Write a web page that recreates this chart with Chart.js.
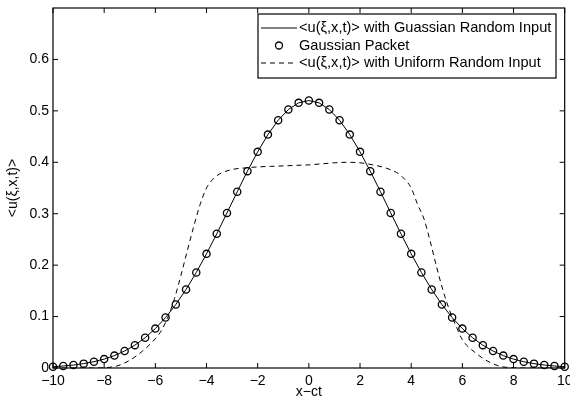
<!DOCTYPE html>
<html>
<head>
<meta charset="utf-8">
<script src="https://cdn.jsdelivr.net/npm/chart.js@4"></script>
<style>
  html, body { margin: 0; padding: 0; background: #fff; }
  #wrap { width: 570px; height: 404px; }
</style>
</head>
<body>
<div id="wrap"><canvas id="chart" width="570" height="404"></canvas></div>
<script>
// x grid of the Gaussian curves (every 0.4)
const xGrid = [-10,-9.6,-9.2,-8.8,-8.4,-8,-7.6,-7.2,-6.8,-6.4,-6,-5.6,-5.2,-4.8,-4.4,-4,-3.6,-3.2,-2.8,-2.4,-2,-1.6,-1.2,-0.8,-0.4,
  0,0.4,0.8,1.2,1.6,2,2.4,2.8,3.2,3.6,4,4.4,4.8,5.2,5.6,6,6.4,6.8,7.2,7.6,8,8.4,8.8,9.2,9.6,10];

// <u(xi,x,t)> with gaussian random input (solid line)
const gaussMean = [0.0025,0.0039,0.0058,0.0085,0.0122,0.0173,0.0241,0.0330,0.0444,0.0588,0.0766,0.0981,0.1234,0.1527,0.1857,
  0.2220,0.2610,0.3016,0.3427,0.3828,0.4203,0.4538,0.4817,0.5026,0.5156,0.5200,0.5156,0.5026,0.4817,0.4538,0.4203,0.3828,
  0.3427,0.3016,0.2610,0.2220,0.1857,0.1527,0.1234,0.0981,0.0766,0.0588,0.0444,0.0330,0.0241,0.0173,0.0122,0.0085,0.0058,0.0039,0.0025];

// gaussian packet (circle markers)
const gaussPacket = [0.0025,0.0039,0.0058,0.0085,0.0122,0.0173,0.0241,0.0330,0.0444,0.0588,0.0766,0.0981,0.1234,0.1527,0.1857,
  0.2220,0.2610,0.3016,0.3427,0.3828,0.4203,0.4538,0.4817,0.5026,0.5156,0.5200,0.5156,0.5026,0.4817,0.4538,0.4203,0.3828,
  0.3427,0.3016,0.2610,0.2220,0.1857,0.1527,0.1234,0.0981,0.0766,0.0588,0.0444,0.0330,0.0241,0.0173,0.0122,0.0085,0.0058,0.0039,0.0025];

// <u(xi,x,t)> with uniform random input (dashed)
const xUniform = [-10,-9,-8.5,-8,-7.5,-7,-6.5,-6,-5.75,-5.5,-5.25,-5,-4.75,-4.5,-4.25,-4,-3.75,-3.5,-3,-2.5,-2,-1.5,-1,-0.5,
  0,0.5,1,1.5,2,2.5,3,3.5,3.75,4,4.25,4.5,4.75,5,5.25,5.5,5.75,6,6.5,7,7.5,8,8.5,9,10];
const uniformMean = [0,0,0,0.0005,0.004,0.015,0.033,0.057,0.074,0.100,0.135,0.180,0.228,0.275,0.318,0.350,0.367,0.377,0.386,0.389,
  0.391,0.392,0.393,0.394,0.395,0.397,0.399,0.400,0.399,0.395,0.389,0.378,0.367,0.350,0.318,0.290,0.245,0.195,0.150,0.112,0.082,
  0.055,0.030,0.013,0.003,0.0005,0,0,0];

const xTicks = [-10,-8,-6,-4,-2,0,2,4,6,8,10];
const yTicks = [0,0.1,0.2,0.3,0.4,0.5,0.6];
const yTickLabels = ['0','0.1','0.2','0.3','0.4','0.5','0.6'];

const legendLabels = [
  '<u(\u03BE,x,t)> with Guassian Random Input',
  'Gaussian Packet',
  '<u(\u03BE,x,t)> with Uniform Random Input'
];

const FONT = '"Liberation Sans", Arial, Helvetica, sans-serif';

function pts(xs, ys) { return xs.map((x, i) => ({x: x, y: ys[i]})); }

// box around the axes with inward ticks on all four sides
const frame = {
  id: 'frame',
  afterDatasetsDraw(chart) {
    const {ctx, chartArea: a, scales} = chart;
    const len = 5;
    ctx.save();
    ctx.strokeStyle = '#000';
    ctx.lineWidth = 1.2;
    ctx.strokeRect(a.left, a.top, a.right - a.left, a.bottom - a.top);
    ctx.lineWidth = 1;
    ctx.beginPath();
    xTicks.forEach(v => {
      const px = scales.x.getPixelForValue(v);
      ctx.moveTo(px, a.bottom); ctx.lineTo(px, a.bottom - len);
      ctx.moveTo(px, a.top); ctx.lineTo(px, a.top + len);
    });
    yTicks.forEach(v => {
      const py = scales.y.getPixelForValue(v);
      ctx.moveTo(a.left, py); ctx.lineTo(a.left + len, py);
      ctx.moveTo(a.right, py); ctx.lineTo(a.right - len, py);
    });
    ctx.stroke();
    ctx.restore();
  }
};

// matlab style legend box in the upper right
const boxLegend = {
  id: 'boxLegend',
  afterDraw(chart) {
    const {ctx} = chart;
    const left = 258, top = 14, right = 556, bottom = 78;
    const rows = [28, 45.5, 63];
    ctx.save();
    ctx.fillStyle = '#fff';
    ctx.fillRect(left, top, right - left, bottom - top);
    ctx.strokeStyle = '#000';
    ctx.lineWidth = 1.2;
    ctx.strokeRect(left, top, right - left, bottom - top);
    ctx.font = '14.6px ' + FONT;
    ctx.textBaseline = 'middle';
    ctx.fillStyle = '#000';
    const x0 = 261, x1 = 297;
    // solid
    ctx.lineWidth = 1;
    ctx.beginPath(); ctx.moveTo(x0, rows[0]); ctx.lineTo(x1, rows[0]); ctx.stroke();
    // circle marker
    ctx.lineWidth = 1.3;
    ctx.beginPath(); ctx.arc((x0 + x1) / 2, rows[1], 3.5, 0, Math.PI * 2); ctx.stroke();
    // dashed
    ctx.lineWidth = 1;
    ctx.setLineDash([5, 4]);
    ctx.beginPath(); ctx.moveTo(x0, rows[2]); ctx.lineTo(x1, rows[2]); ctx.stroke();
    ctx.setLineDash([]);
    legendLabels.forEach((t, i) => ctx.fillText(t, 299, rows[i]));
    ctx.restore();
  }
};

new Chart(document.getElementById('chart').getContext('2d'), {
  type: 'line',
  data: {
    datasets: [
      {
        label: legendLabels[0],
        data: pts(xGrid, gaussMean),
        borderColor: '#000', borderWidth: 1, pointRadius: 0, tension: 0, fill: false
      },
      {
        label: legendLabels[1],
        data: pts(xGrid, gaussPacket),
        showLine: false, pointStyle: 'circle', pointRadius: 3.6,
        pointBorderColor: '#000', pointBackgroundColor: 'rgba(0,0,0,0)', pointBorderWidth: 1.3,
        clip: false
      },
      {
        label: legendLabels[2],
        data: pts(xUniform, uniformMean),
        borderColor: '#000', borderWidth: 1, borderDash: [5, 4], pointRadius: 0,
        cubicInterpolationMode: 'monotone', fill: false
      }
    ]
  },
  options: {
    responsive: false,
    animation: false,
    layout: { padding: { left: 0, right: 5, top: 8, bottom: 0 } },
    plugins: { legend: { display: false }, tooltip: { enabled: false } },
    scales: {
      x: {
        type: 'linear', min: -10, max: 10,
        grid: { display: false, drawTicks: false },
        border: { display: false },
        afterBuildTicks: s => { s.ticks = xTicks.map(v => ({value: v})); },
        afterFit: s => { s.height = 36; s.paddingLeft = 0; s.paddingRight = 0; },
        ticks: {
          autoSkip: false, maxRotation: 0, padding: 5, color: '#000',
          font: { family: FONT, size: 14 },
          callback: v => String(v).replace('-', '\u2212')
        },
        title: { display: true, text: 'x\u2212ct', color: '#000', font: { family: FONT, size: 14 }, padding: { top: 0, bottom: 3 } }
      },
      y: {
        min: 0, max: 0.7,
        grid: { display: false, drawTicks: false },
        border: { display: false },
        afterBuildTicks: s => { s.ticks = yTicks.map(v => ({value: v})); },
        afterFit: s => { s.width = 53; s.paddingTop = 0; s.paddingBottom = 0; },
        ticks: {
          autoSkip: false, padding: 4, color: '#000',
          font: { family: FONT, size: 14 },
          callback: (v, i) => yTickLabels[i]
        },
        title: { display: true, text: '<u(\u03BE,x,t)>', color: '#000', font: { family: FONT, size: 14 }, padding: { top: 5, bottom: 0 } }
      }
    }
  },
  plugins: [frame, boxLegend]
});
</script>
</body>
</html>
